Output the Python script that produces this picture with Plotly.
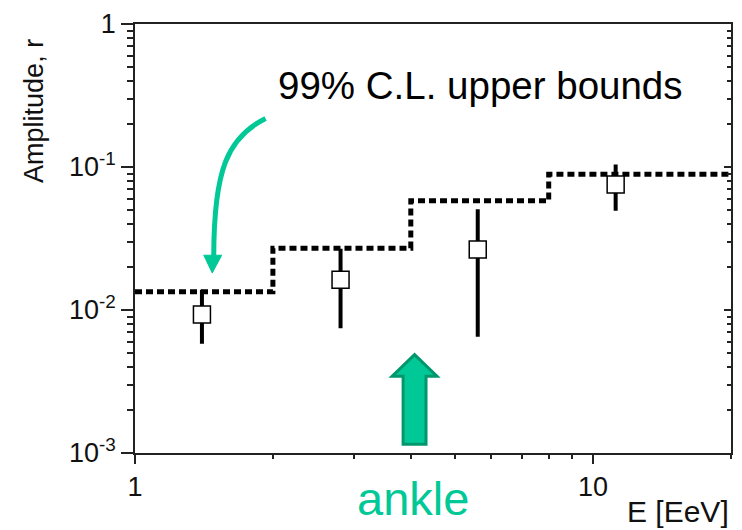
import plotly.graph_objects as go

# ---- data ----
bin_edges = [1, 2, 4, 8, 20]
upper_bounds = [0.0134, 0.027, 0.058, 0.089]

energies = [1.40, 2.81, 5.6, 11.2]
amplitudes = [0.0093, 0.0163, 0.0265, 0.0755]
amp_hi = [0.0134, 0.026, 0.049, 0.101]
amp_lo = [0.0060, 0.0077, 0.0067, 0.051]

x_tickvals = [1, 10]
x_ticktext = ["1", "10"]
y_tickvals = [1e-3, 1e-2, 1e-1, 1]
y_ticktext = ["10<sup>-3</sup>", "10<sup>-2</sup>", "10<sup>-1</sup>", "1"]

W, H = 742, 530
ML, MR, MT, MB = 135, 9, 17, 77
PW, PH = W - ML - MR, H - MT - MB


def px(x):
    return (x - ML) / PW


def py(y):
    return (H - MB - y) / PH


TEAL = "#00c896"
TEAL_DARK = "#00976c"
FONT = "Liberation Sans, Arial, Helvetica, sans-serif"

step_y = upper_bounds + [upper_bounds[-1]]

fig = go.Figure()
fig.add_trace(go.Scatter(
    x=bin_edges, y=step_y, mode="lines", line_shape="hv",
    line=dict(color="black", width=5, dash="7px,4px"),
    showlegend=False, hoverinfo="skip"))

err_plus = [h - a for h, a in zip(amp_hi, amplitudes)]
err_minus = [a - l for a, l in zip(amplitudes, amp_lo)]
fig.add_trace(go.Scatter(
    x=energies, y=amplitudes, mode="markers",
    marker=dict(symbol="square", size=17, color="white",
                line=dict(color="black", width=1.5)),
    error_y=dict(type="data", symmetric=False, array=err_plus,
                 arrayminus=err_minus, color="black", thickness=4, width=2),
    showlegend=False))

# dummy trace so the right-hand tick axis is drawn
fig.add_trace(go.Scatter(x=[2], y=[0.01], yaxis="y2", mode="markers",
                         marker=dict(opacity=0), showlegend=False,
                         hoverinfo="skip"))

minor_y = [k * 10 ** d for d in (-3, -2, -1) for k in range(2, 10)]
minor_x = [2, 3, 4, 5, 6, 7, 8, 9, 20]

fig.update_layout(
    width=W, height=H,
    margin=dict(l=ML, r=MR, t=MT, b=MB),
    paper_bgcolor="white", plot_bgcolor="white",
    font=dict(family=FONT, color="#111", size=27),
    showlegend=False,
    xaxis=dict(type="log", range=[0, 1.30103], showgrid=False,
               showline=True, linecolor="#222", linewidth=1.5, mirror=True,
               ticks="outside", ticklen=9, tickwidth=1.5, tickcolor="#222",
               tickvals=x_tickvals, ticktext=x_ticktext,
               tickfont=dict(size=27),
               minor=dict(tickvals=minor_x, ticks="outside", ticklen=4,
                          tickwidth=1.5, tickcolor="#222", showgrid=False),
               zeroline=False),
    yaxis=dict(type="log", range=[-3, 0], showgrid=False,
               showline=True, linecolor="#222", linewidth=1.5, mirror=True,
               ticks="outside", ticklen=12, tickwidth=1.5, tickcolor="#222",
               tickvals=y_tickvals, ticktext=y_ticktext,
               tickfont=dict(size=27),
               minor=dict(tickvals=minor_y, ticks="outside", ticklen=6,
                          tickwidth=1.5, tickcolor="#222", showgrid=False),
               zeroline=False),
    yaxis2=dict(type="log", range=[-3, 0], overlaying="y", side="right",
                showgrid=False, showline=False, showticklabels=False,
                ticks="inside", ticklen=7, tickwidth=1.5, tickcolor="#222",
                tickvals=y_tickvals,
                minor=dict(tickvals=minor_y, ticks="inside", ticklen=4,
                           tickwidth=1.5, tickcolor="#222", showgrid=False),
                zeroline=False),
)

annotations = [
    dict(text="Amplitude, r", textangle=-90, x=px(33), y=py(105),
         xref="paper", yref="paper", showarrow=False,
         xanchor="center", yanchor="middle",
         font=dict(size=27, color="#111", family=FONT)),
    dict(text="E [EeV]", x=1.0, y=py(512), xref="paper", yref="paper",
         showarrow=False, xanchor="right", yanchor="middle",
         font=dict(size=30, color="#111", family=FONT)),
    dict(text="99% C.L. upper bounds", x=px(276), y=py(80),
         xref="paper", yref="paper", showarrow=False,
         xanchor="left", yanchor="middle",
         font=dict(size=38.5, color="black", family=FONT)),
    dict(text="ankle", x=px(356), y=py(499), xref="paper", yref="paper",
         showarrow=False, xanchor="left", yanchor="middle",
         font=dict(size=47, color=TEAL, family=FONT)),
]
fig.update_layout(annotations=annotations)


def pth(points, close=True):
    s = "M " + " L ".join(f"{px(a):.5f},{py(b):.5f}" for a, b in points)
    return s + (" Z" if close else "")


block_arrow = [(415.5, 353), (438, 375), (427, 375), (427, 444),
               (404, 444), (404, 375), (393, 375)]
curve = (f"M {px(266):.5f},{py(113):.5f} "
         f"C {px(228):.5f},{py(132):.5f} {px(214):.5f},{py(165):.5f} "
         f"{px(214):.5f},{py(254):.5f}")
head = [(204, 252), (222, 252), (212.5, 270)]

fig.update_layout(shapes=[
    dict(type="path", path=pth(block_arrow), xref="paper", yref="paper",
         fillcolor=TEAL, line=dict(color=TEAL_DARK, width=3)),
    dict(type="path", path=curve, xref="paper", yref="paper",
         line=dict(color=TEAL, width=5)),
    dict(type="path", path=pth(head), xref="paper", yref="paper",
         fillcolor=TEAL, line=dict(color=TEAL, width=1)),
])

post = ("document.body.style.margin='0';document.body.style.padding='0';"
        "document.body.style.overflow='hidden';"
        "var d=document.getElementById('{plot_id}');"
        "d.style.position='absolute';d.style.left='0px';d.style.top='0px';")

fig.write_html("out.html", post_script=post,
               config={"displayModeBar": False})
